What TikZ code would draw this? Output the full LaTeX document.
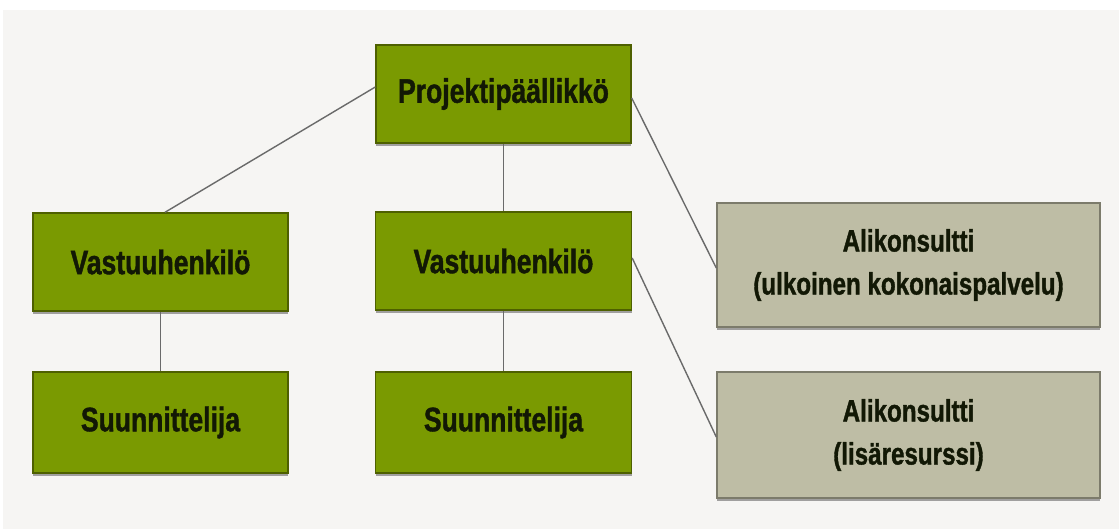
\documentclass[tikz,border=0pt]{standalone}
\usepackage{fontspec}
\newfontfamily\boxfont{Liberation Sans}[FakeStretch=0.78,FakeBold=1.2]
\usetikzlibrary{shadows}
\definecolor{pagebg}{HTML}{F6F5F3}
\definecolor{leaf}{HTML}{7A9A01}
\definecolor{leafedge}{HTML}{4E6000}
\definecolor{khaki}{HTML}{BEBDA5}
\definecolor{khakiedge}{HTML}{7C7B6B}
\definecolor{linkgray}{HTML}{6A6A6A}
\definecolor{inkdark}{HTML}{121805}
\begin{document}
\begin{tikzpicture}[x=1pt,y=-1pt,
  rolebox/.style={draw=leafedge, line width=1.4pt, fill=leaf, inner sep=0pt,
    minimum width=255pt, minimum height=98pt, text=inkdark,
    font=\boxfont\bfseries\fontsize{34}{40}\selectfont,
    drop shadow={shadow xshift=0pt, shadow yshift=-2.5pt, opacity=0.35, fill=black}},
  subbox/.style={draw=khakiedge, line width=1.4pt, fill=khaki, inner sep=0pt,
    minimum width=383pt, align=center, text=inkdark,
    font=\boxfont\bfseries\fontsize{31}{43}\selectfont,
    drop shadow={shadow xshift=0pt, shadow yshift=-2.5pt, opacity=0.35, fill=black}},
  link/.style={draw=linkgray, line width=1.4pt}]
  % page and background panel
  \useasboundingbox (0,0) rectangle (1119,530);
  \fill[white] (0,0) rectangle (1119,530);
  \fill[pagebg] (3,10) rectangle (1119,529);

  % organisation boxes
  \node[rolebox] (pm) at (503.5,94) {Projektipäällikkö};
  \node[rolebox] (v1) at (160.5,262) {Vastuuhenkilö};
  \node[rolebox, minimum width=256pt] (v2) at (503.5,261) {Vastuuhenkilö};
  \node[rolebox, minimum height=101pt] (s1) at (160.5,422.5) {Suunnittelija};
  \node[rolebox, minimum width=256pt, minimum height=101pt] (s2) at (503.5,422.5) {Suunnittelija};
  \node[subbox, minimum height=124pt] (a1) at (908.5,265)
    {Alikonsultti\\(ulkoinen kokonaispalvelu)};
  \node[subbox, minimum height=126pt] (a2) at (908.5,435)
    {Alikonsultti\\(lisäresurssi)};

  % reporting lines
  \draw[link] ([yshift=7pt]pm.west) -- ([xshift=4.5pt]v1.north);
  \draw[link] (pm.south) -- (v2.north);
  \draw[link] ([yshift=-4pt]pm.east) -- ([yshift=-3pt]a1.west);
  \draw[link] ([yshift=3pt]v2.east) -- ([yshift=-2pt]a2.west);
  \draw[link] (v1.south) -- (s1.north);
  \draw[link] (v2.south) -- (s2.north);
\end{tikzpicture}
\end{document}
